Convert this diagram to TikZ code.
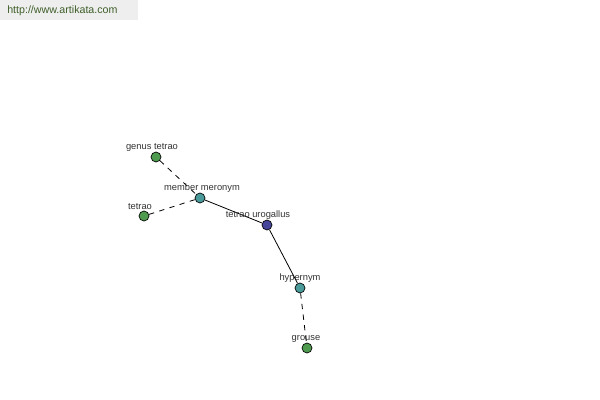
\documentclass[tikz,border=0pt]{standalone}
\usepackage{fontspec}
\setmainfont{Liberation Sans}
\definecolor{gnode}{HTML}{4E9A4E}
\definecolor{tnode}{HTML}{4A9A9A}
\definecolor{bnode}{HTML}{45459A}
\definecolor{banner}{HTML}{EEEEEE}
\definecolor{bantext}{HTML}{3F5F2A}
\definecolor{lbl}{HTML}{333333}
\begin{document}
\begin{tikzpicture}[x=0.75pt,y=-0.75pt,
  dot/.style={circle,draw=black,line width=0.5pt,minimum size=7.5pt,inner sep=0pt},
  lab/.style={font=\fontsize{7}{8}\selectfont,text=lbl,inner sep=0pt},
  edge/.style={line width=0.6pt},
  dedge/.style={line width=0.6pt,dash pattern=on 4pt off 4pt}]
\useasboundingbox[fill=white] (0,0) rectangle (600,400);
\fill[banner] (0,0) rectangle (138,20);
\node[font=\fontsize{8}{9}\selectfont,text=bantext,anchor=west,inner sep=0pt] (url) at (7,11) {http://www.artikata.com};
\node[dot,fill=gnode] (genus) at (156,157) {};
\node[dot,fill=tnode] (member) at (200,198) {};
\node[dot,fill=gnode] (tetrao) at (144,216) {};
\node[dot,fill=bnode] (uro) at (267,225) {};
\node[dot,fill=tnode] (hyper) at (300,288) {};
\node[dot,fill=gnode] (grouse) at (307,348) {};
\draw[dedge] (genus) -- (member);
\draw[dedge] (tetrao) -- (member);
\draw[edge] (member) -- (uro);
\draw[edge] (uro) -- (hyper);
\draw[dedge] (hyper) -- (grouse);
\node[lab] (lgenus) at (152,147.5) {genus tetrao};
\node[lab] (lmember) at (202,188.5) {member meronym};
\node[lab] (ltetrao) at (140,206.5) {tetrao};
\node[lab] (luro) at (258,215.5) {tetrao urogallus};
\node[lab] (lhyper) at (300,278.5) {hypernym};
\node[lab] (lgrouse) at (306,338.5) {grouse};
\end{tikzpicture}
\end{document}
